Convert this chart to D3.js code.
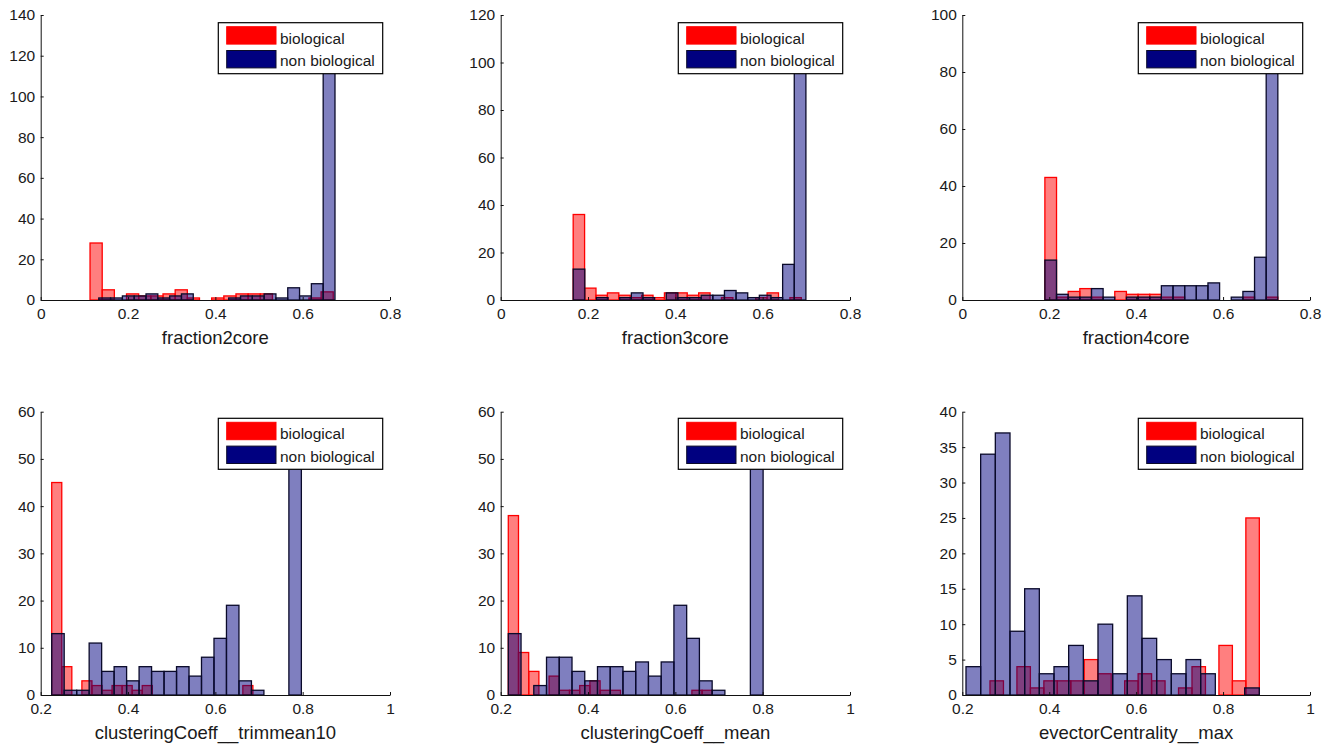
<!DOCTYPE html>
<html>
<head>
<meta charset="utf-8">
<script src="https://cdn.jsdelivr.net/npm/d3@7"></script>
<style>
  body { margin: 0; background: #fff; }
  text { font-family: "Liberation Sans", Arial, sans-serif; fill: #1a1a1a; }
</style>
</head>
<body>
<svg id="chart" width="1333" height="748"></svg>
<script>
// ---- data ----
const features = ["fraction2core", "fraction3core", "fraction4core",
  "clusteringCoeff__trimmean10", "clusteringCoeff__mean", "evectorCentrality__max"];
const legendLabels = ["biological", "non biological"];

// histogram counts (20 bins each) and the [first edge, last edge] of the bins
const bio2core = [28, 5, 0, 3, 2, 2, 3, 5, 1, 0, 1, 2, 3, 3, 3, 0, 0, 0, 1, 4];
const bio2coreEdges = [0.113, 0.670];
const nonBio2core = [1, 1, 2, 2, 3, 1, 2, 3, 0, 0, 0, 1, 2, 2, 3, 1, 6, 2, 8, 125];
const nonBio2coreEdges = [0.133, 0.674];

const bio3core = [36, 5, 2, 3, 2, 1, 2, 1, 3, 3, 2, 3, 0, 1, 0, 0, 1, 3, 0, 1];
const bio3coreEdges = [0.166, 0.6885];
const nonBio3core = [13, 0, 1, 0, 1, 3, 1, 0, 3, 1, 1, 2, 2, 4, 3, 1, 2, 1, 15, 108];
const nonBio3coreEdges = [0.166, 0.699];

const bio4core = [43, 1, 3, 4, 1, 0, 3, 2, 2, 2, 1, 1, 0, 0, 0, 0, 0, 1, 0, 1];
const bio4coreEdges = [0.190, 0.726];
const nonBio4core = [14, 2, 1, 1, 4, 1, 0, 1, 1, 1, 5, 5, 5, 5, 6, 0, 1, 3, 15, 88];
const nonBio4coreEdges = [0.190, 0.726];

const bioTrim = [45, 6, 0, 3, 2, 1, 2, 2, 1, 2, 0, 0, 0, 0, 0, 0, 0, 0, 0, 2];
const bioTrimEdges = [0.2252, 0.686];
const nonBioTrim = [13, 1, 1, 11, 5, 6, 3, 6, 5, 5, 6, 4, 8, 12, 19, 3, 1, 0, 0, 54];
const nonBioTrimEdges = [0.2252, 0.797];

const bioMean = [38, 9, 5, 0, 4, 1, 1, 2, 3, 1, 1, 0, 0, 0, 0, 0, 0, 0, 1, 1];
const bioMeanEdges = [0.2174, 0.6846];
const nonBioMean = [13, 0, 2, 8, 8, 5, 3, 6, 6, 5, 7, 4, 7, 19, 12, 3, 1, 0, 0, 54];
const nonBioMeanEdges = [0.2174, 0.801];

const bioEvec = [2, 0, 4, 1, 2, 2, 2, 5, 3, 0, 2, 3, 2, 0, 1, 4, 0, 7, 2, 25];
const bioEvecEdges = [0.2637, 0.8834];
const nonBioEvec = [4, 34, 37, 9, 15, 3, 4, 7, 2, 10, 3, 14, 8, 5, 3, 5, 3, 0, 0, 1];
const nonBioEvecEdges = [0.2085, 0.8834];

// tick labels
const xTicksFraction = [0, 0.2, 0.4, 0.6, 0.8];
const xTicksCoeff = [0.2, 0.4, 0.6, 0.8, 1];
const yTicks2core = [0, 20, 40, 60, 80, 100, 120, 140];
const yTicks3core = [0, 20, 40, 60, 80, 100, 120];
const yTicks4core = [0, 20, 40, 60, 80, 100];
const yTicksTrim = [0, 10, 20, 30, 40, 50, 60];
const yTicksMean = [0, 10, 20, 30, 40, 50, 60];
const yTicksEvec = [0, 5, 10, 15, 20, 25, 30, 35, 40];

const panels = [
  { label: features[0], bio: bio2core, bioEdges: bio2coreEdges, non: nonBio2core, nonEdges: nonBio2coreEdges, xTicks: xTicksFraction, yTicks: yTicks2core },
  { label: features[1], bio: bio3core, bioEdges: bio3coreEdges, non: nonBio3core, nonEdges: nonBio3coreEdges, xTicks: xTicksFraction, yTicks: yTicks3core },
  { label: features[2], bio: bio4core, bioEdges: bio4coreEdges, non: nonBio4core, nonEdges: nonBio4coreEdges, xTicks: xTicksFraction, yTicks: yTicks4core },
  { label: features[3], bio: bioTrim, bioEdges: bioTrimEdges, non: nonBioTrim, nonEdges: nonBioTrimEdges, xTicks: xTicksCoeff, yTicks: yTicksTrim },
  { label: features[4], bio: bioMean, bioEdges: bioMeanEdges, non: nonBioMean, nonEdges: nonBioMeanEdges, xTicks: xTicksCoeff, yTicks: yTicksMean },
  { label: features[5], bio: bioEvec, bioEdges: bioEvecEdges, non: nonBioEvec, nonEdges: nonBioEvecEdges, xTicks: xTicksCoeff, yTicks: yTicksEvec }
];

// ---- layout ----
const colLeft = [40.7, 500.7, 962.3];
const colWidth = [349.3, 349.3, 347.7];
const rowTop = [15, 411.7];
const rowBottom = [300, 695];

const bioStyle = { fill: "#ff0000", stroke: "#ff0000" };
const nonStyle = { fill: "#000080", stroke: "#0a0a2a" };

const svg = d3.select("#chart");

function toBins(counts, edges) {
  const step = (edges[1] - edges[0]) / counts.length;
  return counts.map((c, i) => ({ x0: edges[0] + i * step, x1: edges[0] + (i + 1) * step, count: c }));
}

function drawBars(g, bins, x, y, style) {
  g.append("g")
    .selectAll("rect")
    .data(bins.filter(b => b.count > 0))
    .enter()
    .append("rect")
    .attr("x", b => x(b.x0))
    .attr("y", b => y(b.count))
    .attr("width", b => x(b.x1) - x(b.x0))
    .attr("height", b => y(0) - y(b.count))
    .attr("fill", style.fill)
    .attr("fill-opacity", 0.5)
    .attr("stroke", style.stroke)
    .attr("stroke-width", 1.3);
}

panels.forEach((p, i) => {
  const col = i % 3, row = Math.floor(i / 3);
  const w = colWidth[col], h = rowBottom[row] - rowTop[row];
  const g = svg.append("g").attr("transform", "translate(" + colLeft[col] + "," + rowTop[row] + ")");

  const x = d3.scaleLinear().domain(d3.extent(p.xTicks)).range([0, w]);
  const y = d3.scaleLinear().domain(d3.extent(p.yTicks)).range([h, 0]);

  drawBars(g, toBins(p.bio, p.bioEdges), x, y, bioStyle);
  drawBars(g, toBins(p.non, p.nonEdges), x, y, nonStyle);

  const xAxis = g.append("g")
    .attr("transform", "translate(0," + h + ")")
    .call(d3.axisBottom(x).tickValues(p.xTicks).tickFormat(d3.format("~g"))
      .tickSizeInner(-3).tickSizeOuter(0).tickPadding(8));
  const yAxis = g.append("g")
    .call(d3.axisLeft(y).tickValues(p.yTicks).tickFormat(d3.format("~g"))
      .tickSizeInner(-3).tickSizeOuter(0).tickPadding(5.5));
  [xAxis, yAxis].forEach(a => {
    a.attr("font-size", 15.5).attr("font-family", null);
    a.selectAll("path, line").attr("stroke", "#111");
  });

  g.append("text")
    .attr("x", w / 2)
    .attr("y", h + (row === 0 ? 43.5 : 44.5))
    .attr("text-anchor", "middle")
    .attr("font-size", 18.5)
    .text(p.label);

  // legend
  const lw = 164.4, lh = 51;
  const lg = g.append("g").attr("transform", "translate(" + (w - 7.3 - lw) + "," + (row === 0 ? 7.7 : 6.6) + ")");
  lg.append("rect").attr("width", lw).attr("height", lh)
    .attr("fill", "#fff").attr("stroke", "#000").attr("stroke-width", 1.2);
  [bioStyle, nonStyle].forEach((s, k) => {
    lg.append("rect")
      .attr("x", 8.4).attr("y", 4 + k * 23.8)
      .attr("width", 49.3).attr("height", 17.4)
      .attr("fill", s.fill).attr("stroke", s.stroke).attr("stroke-width", 1);
    lg.append("text")
      .attr("x", 61.7).attr("y", 20.9 + k * 22.6)
      .attr("font-size", 15.5)
      .text(legendLabels[k]);
  });
});
</script>
</body>
</html>
